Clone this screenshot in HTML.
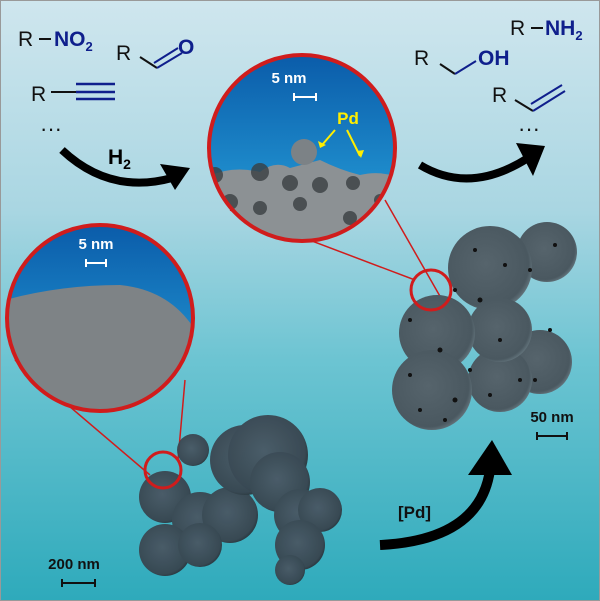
<!DOCTYPE html>
<html><head><style>
html,body{margin:0;padding:0;width:600px;height:601px;overflow:hidden}
svg{display:block}
text{font-family:"Liberation Sans",sans-serif}
</style></head><body>
<svg width="600" height="601" viewBox="0 0 600 601" xmlns="http://www.w3.org/2000/svg">
<defs>
<linearGradient id="bg" x1="0" y1="0" x2="0" y2="1">
<stop offset="0" stop-color="#cfe6ee"/><stop offset="0.35" stop-color="#a9d6e2"/>
<stop offset="0.6" stop-color="#6cc4d2"/><stop offset="1" stop-color="#2eaabb"/>
</linearGradient>
<linearGradient id="blue" x1="0" y1="0" x2="0" y2="1">
<stop offset="0" stop-color="#0a5aa8"/><stop offset="1" stop-color="#29a8e0"/>
</linearGradient>
<radialGradient id="sph" cx="0.45" cy="0.45" r="0.6">
<stop offset="0" stop-color="#4a5864"/><stop offset="0.85" stop-color="#38444e"/><stop offset="1" stop-color="#222a30"/>
</radialGradient>
<radialGradient id="sph2" cx="0.45" cy="0.45" r="0.6">
<stop offset="0" stop-color="#56646c"/><stop offset="0.85" stop-color="#4a5860"/><stop offset="1" stop-color="#6e8088"/>
</radialGradient>
<clipPath id="c1"><circle cx="302" cy="148" r="93"/></clipPath>
<clipPath id="c2"><circle cx="100" cy="318" r="93"/></clipPath>
</defs>
<rect width="600" height="601" fill="url(#bg)"/>
<rect x="0.5" y="0.5" width="599" height="600" fill="none" stroke="#999"/>

<line x1="415" y1="280" x2="230" y2="210" stroke="#d01c1c" stroke-width="1.5"/>
<line x1="445" y1="305" x2="385" y2="200" stroke="#d01c1c" stroke-width="1.5"/>
<line x1="150" y1="475" x2="15" y2="360" stroke="#d01c1c" stroke-width="1.5"/>
<line x1="178" y1="460" x2="185" y2="380" stroke="#d01c1c" stroke-width="1.5"/>

<g opacity="0.95">
<circle cx="193" cy="450" r="16" fill="url(#sph)"/>
<circle cx="165" cy="497" r="26" fill="url(#sph)"/>
<circle cx="200" cy="520" r="28" fill="url(#sph)"/>
<circle cx="230" cy="515" r="28" fill="url(#sph)"/>
<circle cx="165" cy="550" r="26" fill="url(#sph)"/>
<circle cx="200" cy="545" r="22" fill="url(#sph)"/>
<circle cx="245" cy="460" r="35" fill="url(#sph)"/>
<circle cx="268" cy="455" r="40" fill="url(#sph)"/>
<circle cx="280" cy="482" r="30" fill="url(#sph)"/>
<circle cx="300" cy="515" r="26" fill="url(#sph)"/>
<circle cx="320" cy="510" r="22" fill="url(#sph)"/>
<circle cx="300" cy="545" r="25" fill="url(#sph)"/>
<circle cx="290" cy="570" r="15" fill="url(#sph)"/>
</g>
<circle cx="163" cy="470" r="18" fill="none" stroke="#d01c1c" stroke-width="3"/>

<g>
<circle cx="547" cy="252" r="30" fill="url(#sph2)"/>
<circle cx="490" cy="268" r="42" fill="url(#sph2)"/>
<circle cx="540" cy="362" r="32" fill="url(#sph2)"/>
<circle cx="500" cy="380" r="32" fill="url(#sph2)"/>
<circle cx="500" cy="330" r="32" fill="url(#sph2)"/>
<circle cx="437" cy="333" r="38" fill="url(#sph2)"/>
<circle cx="432" cy="390" r="40" fill="url(#sph2)"/>
<g fill="#111">
<circle cx="455" cy="290" r="2"/><circle cx="480" cy="300" r="2.5"/><circle cx="505" cy="265" r="2"/>
<circle cx="530" cy="270" r="2"/><circle cx="440" cy="350" r="2.5"/><circle cx="470" cy="370" r="2"/>
<circle cx="500" cy="340" r="2"/><circle cx="520" cy="380" r="2"/><circle cx="455" cy="400" r="2.5"/>
<circle cx="410" cy="320" r="2"/><circle cx="550" cy="330" r="2"/><circle cx="490" cy="395" r="2"/>
<circle cx="420" cy="410" r="2"/><circle cx="445" cy="420" r="2"/><circle cx="535" cy="380" r="2"/>
<circle cx="555" cy="245" r="2"/><circle cx="475" cy="250" r="2"/><circle cx="410" cy="375" r="2"/>
</g>
</g>
<circle cx="431" cy="290" r="20" fill="none" stroke="#d01c1c" stroke-width="3"/>

<g clip-path="url(#c1)">
<rect x="200" y="50" width="210" height="200" fill="url(#blue)"/>
<path d="M205 178 Q230 165 260 172 Q275 160 290 168 L320 160 Q340 170 360 175 Q380 170 400 178 L400 250 L205 250 Z" fill="#8c9194"/>
<circle cx="304" cy="152" r="13" fill="#7c8286"/>
<g fill="#3a3f42" opacity="0.8">
<circle cx="260" cy="172" r="9"/><circle cx="290" cy="183" r="8"/><circle cx="320" cy="185" r="8"/>
<circle cx="353" cy="183" r="7"/><circle cx="230" cy="202" r="8"/><circle cx="260" cy="208" r="7"/>
<circle cx="300" cy="204" r="7"/><circle cx="350" cy="218" r="7"/><circle cx="380" cy="200" r="6"/>
<circle cx="215" cy="175" r="8"/>
</g>
</g>
<circle cx="302" cy="148" r="93" fill="none" stroke="#d01c1c" stroke-width="4"/>
<text x="289" y="83" font-size="15" font-weight="bold" fill="#fff" text-anchor="middle">5 nm</text>
<path d="M294 97 H316 M294 93 V101 M316 93 V101" stroke="#fff" stroke-width="2"/>
<text x="348" y="124" font-size="17" font-weight="bold" fill="#ffee00" text-anchor="middle">Pd</text>
<path d="M335 130 L322 145 M347 130 L360 156" stroke="#ffee00" stroke-width="2"/>
<path d="M318 141 L320 148 L326 145 Z M357 151 L361 158 L364 150 Z" fill="#ffee00"/>

<g clip-path="url(#c2)">
<rect x="0" y="220" width="200" height="200" fill="url(#blue)"/>
<path d="M5 300 Q60 285 120 285 Q170 290 195 330 L195 420 L5 420 Z" fill="#7e8386"/>
</g>
<circle cx="100" cy="318" r="93" fill="none" stroke="#d01c1c" stroke-width="4"/>
<text x="96" y="249" font-size="15" font-weight="bold" fill="#fff" text-anchor="middle">5 nm</text>
<path d="M86 263 H106 M86 259 V267 M106 259 V267" stroke="#fff" stroke-width="2"/>

<g fill="#111" font-size="21">
<text x="18" y="46">R</text>
<line x1="39" y1="39" x2="51" y2="39" stroke="#111" stroke-width="2"/>
<text x="54" y="46" font-weight="bold" fill="#0f1f8c">NO<tspan font-size="13" dy="5">2</tspan></text>
<text x="116" y="60">R</text>
<path d="M140 57 L157 68" stroke="#111" stroke-width="2" fill="none"/>
<path d="M157 68 L182 53 M154 63 L178 48" stroke="#0f1f8c" stroke-width="2" fill="none"/>
<text x="178" y="54" font-weight="bold" fill="#0f1f8c">O</text>
<text x="31" y="101">R</text>
<line x1="51" y1="92" x2="76" y2="92" stroke="#111" stroke-width="2"/>
<path d="M76 84 H115 M76 92 H115 M76 99 H115" stroke="#0f1f8c" stroke-width="2.5"/>
<text x="40" y="136" font-size="22">···</text>
</g>
<path d="M62 150 Q110 195 172 178" stroke="#000" stroke-width="8" fill="none"/>
<path d="M160 164 L190 168 L175 190 Z" fill="#000"/>
<text x="108" y="164" font-size="21" font-weight="bold" fill="#000">H<tspan font-size="14" dy="5">2</tspan></text>

<g fill="#111" font-size="21">
<text x="510" y="35">R</text>
<line x1="531" y1="28" x2="543" y2="28" stroke="#111" stroke-width="2"/>
<text x="545" y="35" font-weight="bold" fill="#0f1f8c">NH<tspan font-size="13" dy="5">2</tspan></text>
<text x="414" y="65">R</text>
<path d="M440 64 L455 74" stroke="#111" stroke-width="2" fill="none"/>
<path d="M455 74 L476 61" stroke="#0f1f8c" stroke-width="2" fill="none"/>
<text x="478" y="65" font-weight="bold" fill="#0f1f8c">OH</text>
<text x="492" y="102">R</text>
<path d="M515 100 L533 111" stroke="#111" stroke-width="2" fill="none"/>
<path d="M533 111 L565 91 M531 104 L562 85" stroke="#0f1f8c" stroke-width="2" fill="none"/>
<text x="518" y="136" font-size="22">···</text>
</g>
<path d="M420 165 Q470 195 528 158" stroke="#000" stroke-width="8" fill="none"/>
<path d="M516 143 L545 146 L533 176 Z" fill="#000"/>

<path d="M380 545 Q480 540 490 470" stroke="#000" stroke-width="10" fill="none"/>
<path d="M468 475 L492 440 L512 475 Z" fill="#000"/>
<text x="398" y="518" font-size="17" font-weight="bold" fill="#111">[Pd]</text>

<text x="552" y="422" font-size="15" font-weight="bold" fill="#111" text-anchor="middle">50 nm</text>
<path d="M537 436 H567 M537 432 V440 M567 432 V440" stroke="#111" stroke-width="2"/>
<text x="74" y="569" font-size="15" font-weight="bold" fill="#111" text-anchor="middle">200 nm</text>
<path d="M62 583 H95 M62 579 V587 M95 579 V587" stroke="#111" stroke-width="2"/>
</svg>
</body></html>
